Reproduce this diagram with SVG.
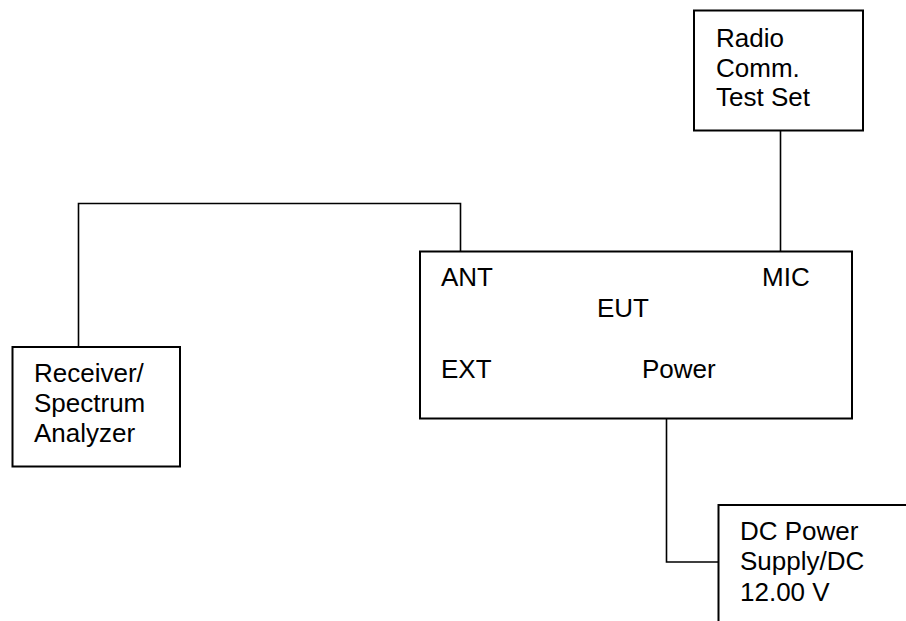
<svg xmlns="http://www.w3.org/2000/svg" width="906" height="621" viewBox="0 0 906 621">
<style>
.box{fill:#fff;stroke:#000;stroke-width:2}
.wire{fill:none;stroke:#000;stroke-width:1.6}
text{font-family:"Liberation Sans",Arial,sans-serif;font-size:26px;fill:#000}
</style>
<rect width="906" height="621" fill="#fff"/>
<g id="connectors">
<polyline class="wire" points="460.5,251 460.5,203.5 78.5,203.5 78.5,347"/>
<line class="wire" x1="780.5" y1="130" x2="780.5" y2="251"/>
<polyline class="wire" points="666.5,419 666.5,562 718,562"/>
</g>
<g id="radio-test-set">
<rect class="box" x="694" y="10.5" width="169" height="120"/>
<text x="716" y="47">Radio</text>
<text x="716" y="77">Comm.</text>
<text x="716" y="106">Test Set</text>
</g>
<g id="eut">
<rect class="box" x="420" y="251.5" width="432" height="167"/>
<text x="441" y="286">ANT</text>
<text x="762" y="286">MIC</text>
<text x="597" y="317">EUT</text>
<text x="441" y="378">EXT</text>
<text x="642" y="378">Power</text>
</g>
<g id="receiver">
<rect class="box" x="12.5" y="347" width="167.5" height="119.5"/>
<text x="34" y="382">Receiver/</text>
<text x="34" y="412">Spectrum</text>
<text x="34" y="442">Analyzer</text>
</g>
<g id="dc-power">
<rect class="box" x="718.5" y="505" width="200" height="140"/>
<text x="740" y="540">DC Power</text>
<text x="740" y="570">Supply/DC</text>
<text x="740" y="601">12.00 V</text>
</g>
</svg>
